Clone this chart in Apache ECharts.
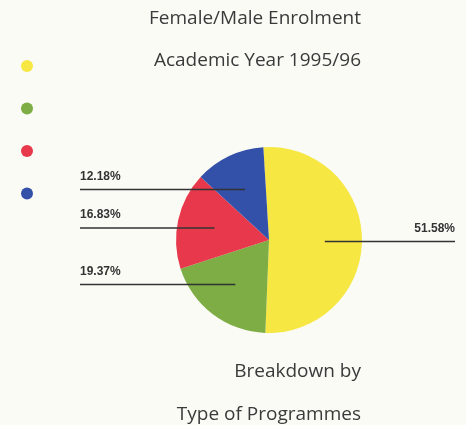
<!DOCTYPE html>
<html><head><meta charset="utf-8">
<script src="https://cdn.jsdelivr.net/npm/echarts@6/dist/echarts.min.js"></script>
<style>html,body{margin:0;padding:0;background:#fbfbf6;}#c{width:466px;height:425px;}</style>
</head><body><div id="c"></div>
<script>
const categories = ['Type A', 'Type B', 'Type C', 'Type D'];
const values = [51.58, 19.37, 16.83, 12.18];
const labels = ['51.58%', '19.37%', '16.83%', '12.18%'];
const colors = ['#f6e743', '#7dad44', '#e7394b', '#3451a9'];
const titleLines = ['Female/Male Enrolment', 'Academic Year 1995/96'];
const subtitleLines = ['Breakdown by', 'Type of Programmes'];

const chart = echarts.init(document.getElementById('c'), null, {renderer: 'canvas'});
const W = 466, H = 425;
const CX = 269, CY = 240, R = 93;
const leftEnd = 80, rightEnd = 455;
const FONT = '19px "Open Sans"';

const pieData = categories.map((c, i) => ({name: c, value: values[i]}));

const option = {
  backgroundColor: '#fbfbf6',
  animation: false,
  graphic: [
    {type: 'text', right: W - 361, top: 9, style: {text: titleLines[0], font: FONT, fill: '#3a3a3a', textAlign: 'right'}},
    {type: 'text', right: W - 361, top: 51, style: {text: titleLines[1], font: FONT, fill: '#3a3a3a', textAlign: 'right'}},
    {type: 'text', right: W - 361, top: 362, style: {text: subtitleLines[0], font: FONT, fill: '#3a3a3a', textAlign: 'right'}},
    {type: 'text', right: W - 361, top: 405, style: {text: subtitleLines[1], font: FONT, fill: '#3a3a3a', textAlign: 'right'}}
  ],
  legend: {
    orient: 'vertical', left: 16, top: 55,
    icon: 'circle', itemWidth: 12, itemHeight: 12, itemGap: 30.5,
    formatter: () => '', data: categories, selectedMode: false
  },
  color: colors,
  series: [{
    type: 'pie', z: 2,
    center: [CX, CY], radius: R,
    startAngle: 93.5, clockwise: true,
    data: pieData,
    label: {show: false}, labelLine: {show: false}
  }, {
    type: 'pie', z: 5,
    center: [CX, CY], radius: R,
    startAngle: 93.5, clockwise: true,
    silent: true,
    itemStyle: {color: 'rgba(0,0,0,0)'},
    data: pieData.map((d, i) => ({name: d.name, value: d.value, label: {formatter: labels[i]}})),
    label: {show: true, position: 'outside', fontSize: 12, fontWeight: 'bold', color: '#333', fontFamily: 'Liberation Sans'},
    labelLine: {show: true, lineStyle: {color: '#333', width: 1.5}},
    labelLayout: function (p) {
      const pts = p.labelLinePoints;
      if (!pts) return {};
      const x0 = pts[0][0], y0 = pts[0][1];
      const px = CX + 0.6 * (x0 - CX), py = CY + 0.6 * (y0 - CY) + (x0 > CX ? 2 : 0);
      const right = x0 > CX;
      const ex = right ? rightEnd : leftEnd;
      return {
        x: ex, y: py - 7,
        align: right ? 'right' : 'left',
        verticalAlign: 'bottom',
        labelLinePoints: [[px, py], [ex, py], [ex, py]]
      };
    }
  }]
};
chart.setOption(option);
</script></body></html>
